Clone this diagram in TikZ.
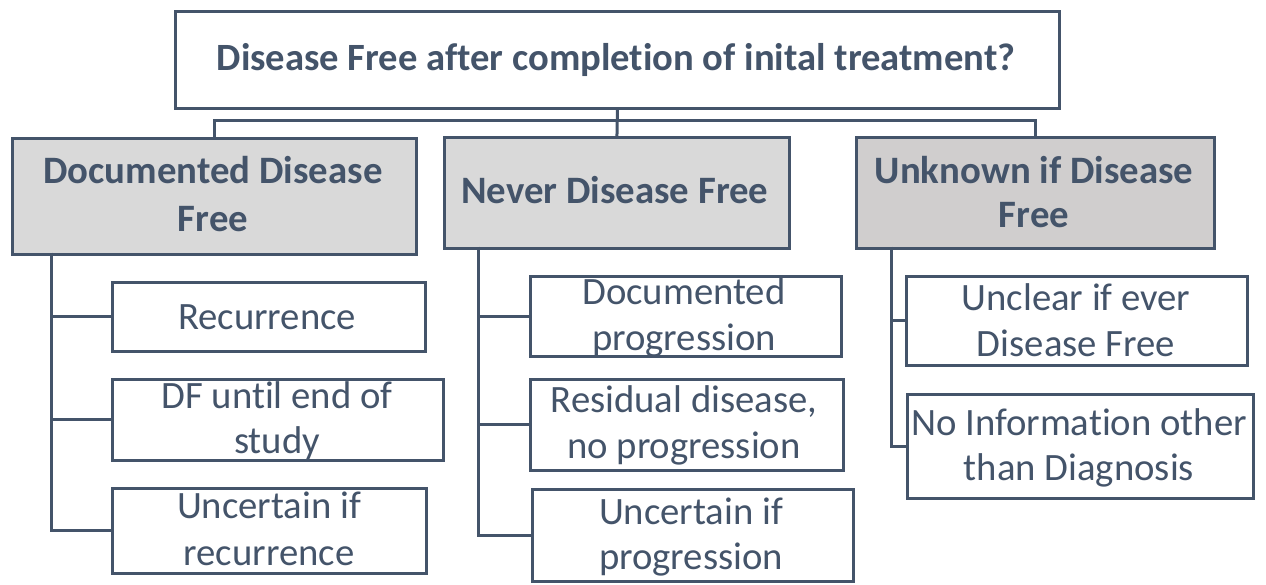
\documentclass[tikz,border=0pt]{standalone}
\usepackage{fontspec}
\setmainfont{Carlito}[Ligatures=NoCommon]
\definecolor{ink}{HTML}{44546A}
\definecolor{grayA}{HTML}{D9D9D9}
\definecolor{grayB}{HTML}{D0CECE}
\begin{document}
\begin{tikzpicture}[x=1pt,y=-1pt,
  box/.style={draw=ink,line width=2.9pt,anchor=north west,inner sep=0pt,fill=white},
  headbox/.style={box,fill=grayA},
  headboxB/.style={box,fill=grayB},
  conn/.style={draw=ink,line width=3pt},
  txt/.style={text=ink,anchor=base,inner sep=0pt,font=\fontsize{38.7}{46}\selectfont},
  htxt/.style={text=ink,anchor=base,inner sep=0pt,font=\fontsize{38.8}{47}\selectfont\bfseries},
  ttxt/.style={text=ink,anchor=base,inner sep=0pt,font=\fontsize{38.6}{42}\selectfont\bfseries}]
\useasboundingbox (0,0) rectangle (1266,585);
% boxes
\node[box,minimum width=884pt,minimum height=97pt] (top) at (174,10) {};
\node[headbox,minimum width=404pt,minimum height=116pt] (ddf) at (11,137) {};
\node[headbox,minimum width=345pt,minimum height=111pt] (nev) at (443,136) {};
\node[headboxB,minimum width=358pt,minimum height=111pt] (unk) at (855,136) {};
\node[box,minimum width=313pt,minimum height=69pt] (r1) at (111,281) {};
\node[box,minimum width=331pt,minimum height=81pt] (r2) at (111,378) {};
\node[box,minimum width=314pt,minimum height=85pt] (r3) at (111,487) {};
\node[box,minimum width=311pt,minimum height=80pt] (p1) at (529,275) {};
\node[box,minimum width=313pt,minimum height=91pt] (p2) at (529,378) {};
\node[box,minimum width=321pt,minimum height=92pt] (p3) at (531,488) {};
\node[box,minimum width=341pt,minimum height=89pt] (u1) at (905,275) {};
\node[box,minimum width=346pt,minimum height=104pt] (u2) at (906,393) {};
% connectors
\coordinate (bus) at (616,121);
\draw[conn] (top.south) -- (nev.north);
\draw[conn] (ddf.north) |- (bus) -| (unk.north);
\coordinate (dtr) at (51,253);
\coordinate (ntr) at (478,247);
\coordinate (utr) at (891,247);
\draw[conn] (dtr) |- (r1.west); \draw[conn] (dtr) |- (r2.west); \draw[conn] (dtr) |- (r3.west);
\draw[conn] (ntr) |- (p1.west); \draw[conn] (ntr) |- (p2.west); \draw[conn] (ntr) |- (p3.west);
\draw[conn] (utr) |- (u1.west); \draw[conn] (utr) |- (u2.west);
% texts
\node[ttxt] (ttop) at (616,71) {Disease Free after completion of inital treatment?};
\node[htxt] (tddf1) at (213,184) {Documented Disease};
\node[htxt] (tddf2) at (213,232) {Free};
\node[htxt] (tnev) at (615,204) {Never Disease Free};
\node[htxt] (tunk1) at (1034,184) {Unknown if Disease};
\node[htxt] (tunk2) at (1034,228) {Free};
\node[txt] (tr1) at (267,329) {Recurrence};
\node[txt] (tr2a) at (277,408) {DF until end of};
\node[txt] (tr2b) at (277,453) {study};
\node[txt] (tr3a) at (269,518) {Uncertain if};
\node[txt] (tr3b) at (269,565) {recurrence};
\node[txt] (tp1a) at (684,305) {Documented};
\node[txt] (tp1b) at (684,350) {progression};
\node[txt] (tp2a) at (684,412) {Residual disease,};
\node[txt] (tp2b) at (684,458) {no progression};
\node[txt] (tp3a) at (691,524) {Uncertain if};
\node[txt] (tp3b) at (691,569) {progression};
\node[txt] (tu1a) at (1076,310) {Unclear if ever};
\node[txt] (tu1b) at (1076,356) {Disease Free};
\node[txt] (tu2a) at (1079,435) {No Information other};
\node[txt] (tu2b) at (1079,480) {than Diagnosis};
\end{tikzpicture}
\end{document}
